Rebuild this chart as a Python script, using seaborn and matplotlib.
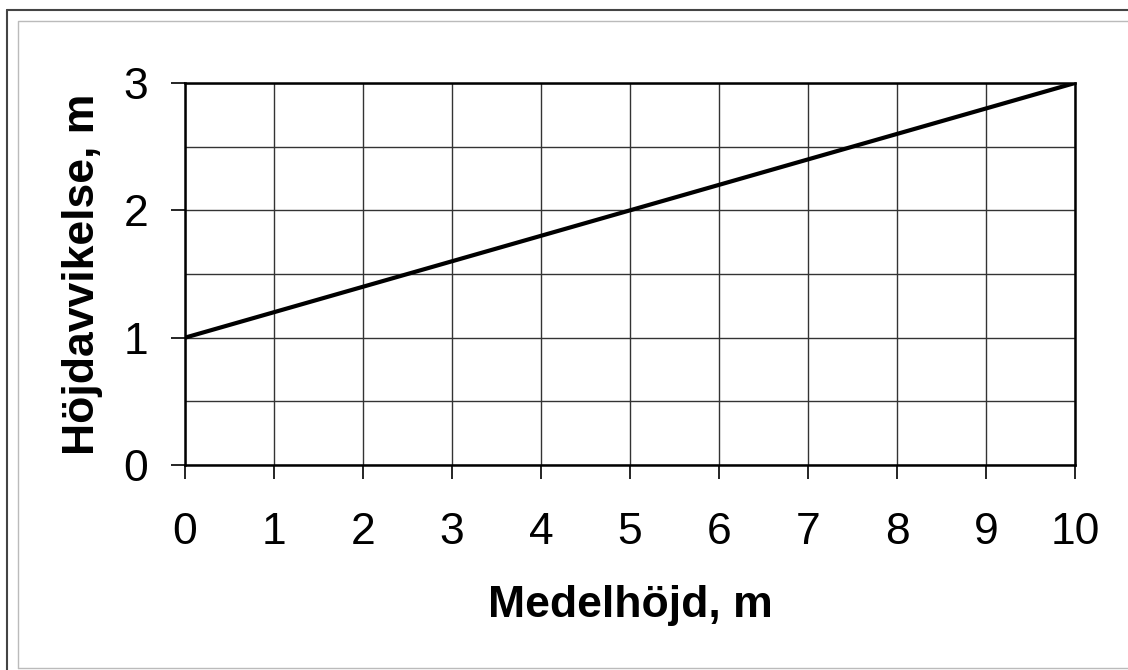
import numpy as np
import matplotlib
matplotlib.use("Agg")
import matplotlib.pyplot as plt
import seaborn as sns
import pandas as pd
from matplotlib.lines import Line2D

# data
medelhojd = [0, 10]
hojdavvikelse = [1, 3]
x_ticks = list(range(0, 11))
y_ticks = [0, 1, 2, 3]
y_minor = [0.5, 1.5, 2.5]

df = pd.DataFrame({"Medelhöjd, m": medelhojd, "Höjdavvikelse, m": hojdavvikelse})

sns.set_theme(style="white")
plt.rcParams["font.family"] = ["Liberation Sans", "DejaVu Sans"]

W, H = 1128, 670
fig = plt.figure(figsize=(W / 100, H / 100), dpi=100)
ax = fig.add_axes([185 / W, 1 - 465 / H, (1075 - 185) / W, (465 - 83) / H])

sns.lineplot(data=df, x="Medelhöjd, m", y="Höjdavvikelse, m", ax=ax,
             color="black", linewidth=3.0, zorder=5)

ax.set_xlim(0, 10)
ax.set_ylim(0, 3)
ax.set_xticks(x_ticks)
ax.set_yticks(y_ticks)
ax.set_yticks(y_minor, minor=True)

# excel-style grid
ax.grid(True, which="both", color="#333333", linewidth=1.0)
ax.set_axisbelow(True)
for s in ax.spines.values():
    s.set_visible(True)
    s.set_color("black")
    s.set_linewidth(1.8)

ax.tick_params(axis="both", which="major", direction="out", length=10, width=1.2,
               color="black", labelsize=32, labelcolor="black",
               left=True, bottom=True)
ax.tick_params(axis="y", which="minor", length=0)
ax.tick_params(axis="x", pad=24)
ax.tick_params(axis="y", pad=16.5)

ax.set_xlabel("Medelhöjd, m", fontsize=32, fontweight="bold", color="black", labelpad=23)
ax.set_ylabel("Höjdavvikelse, m", fontsize=32, fontweight="bold", color="black", labelpad=15)

# chart frame
fig.add_artist(Line2D([7 / W, 7 / W], [0, 1 - 10 / H], transform=fig.transFigure,
                      color="#444444", linewidth=1.5))
fig.add_artist(Line2D([7 / W, 1], [1 - 10 / H, 1 - 10 / H], transform=fig.transFigure,
                      color="#444444", linewidth=1.5))
fig.add_artist(Line2D([18 / W, 18 / W, 1], [1 - 668 / H, 1 - 21 / H, 1 - 21 / H],
                      transform=fig.transFigure, color="#bbbbbb", linewidth=1.0))
fig.add_artist(Line2D([18 / W, 1], [1 - 668 / H, 1 - 668 / H],
                      transform=fig.transFigure, color="#bbbbbb", linewidth=1.0))

fig.savefig("out.png", dpi=100)
